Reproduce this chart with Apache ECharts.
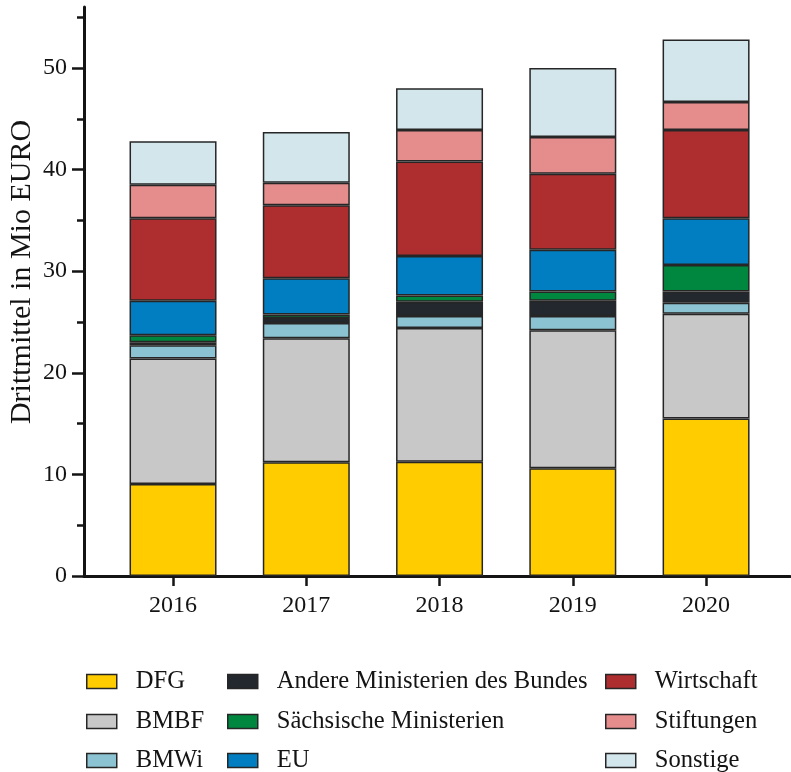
<!DOCTYPE html>
<html>
<head>
<meta charset="utf-8">
<script src="https://cdn.jsdelivr.net/npm/echarts@6/dist/echarts.min.js"></script>
<style>
html,body{margin:0;padding:0;background:#fff;}
#chart{width:791px;height:772px;}
</style>
</head>
<body>
<div id="chart"></div>
<script>
var years = ['2016', '2017', '2018', '2019', '2020'];
var seriesNames = ['DFG', 'BMBF', 'BMWi', 'Andere Ministerien des Bundes', 'Sächsische Ministerien', 'EU', 'Wirtschaft', 'Stiftungen', 'Sonstige'];
var dfg = [9.05, 11.2, 11.25, 10.6, 15.5];
var bmbf = [12.35, 12.2, 13.15, 13.6, 10.3];
var bmwi = [1.3, 1.5, 1.2, 1.4, 1.1];
var andere = [0.3, 0.5, 1.4, 1.5, 1.1];
var saechs = [0.7, 0.35, 0.6, 0.9, 2.6];
var eu = [3.4, 3.55, 3.9, 4.1, 4.6];
var wirtschaft = [8.1, 7.2, 9.3, 7.5, 8.7];
var stiftungen = [3.3, 2.2, 3.1, 3.6, 2.75];
var sonstige = [4.3, 5.0, 4.1, 6.8, 6.15];
var yTickLabels = [0, 10, 20, 30, 40, 50];
var colors = ['#FFCC00', '#C8C8C8', '#8CC3D2', '#23282F', '#00873F', '#007EC1', '#AE2D2F', '#E58C8C', '#D3E6EC'];
var values = [dfg, bmbf, bmwi, andere, saechs, eu, wirtschaft, stiftungen, sonstige];

var FONT = '"Liberation Serif", "Times New Roman", Times, serif';
var INK = '#141414';

var chart = echarts.init(document.getElementById('chart'));

var series = seriesNames.map(function (n, i) {
  return {
    name: n,
    type: 'bar',
    stack: 'total',
    xAxisIndex: 1,
    yAxisIndex: 1,
    barWidth: 87,
    data: values[i],
    itemStyle: { color: colors[i], borderColor: '#262626', borderWidth: 1.5 },
    emphasis: { disabled: true }
  };
});

// legend laid out as 3 columns x 3 rows (column-major)
var legendCols = [86, 227, 605];
var legendRowCenters = [681, 721, 760];
var legends = seriesNames.map(function (n, i) {
  var col = Math.floor(i / 3), row = i % 3;
  return {
    orient: 'horizontal',
    left: legendCols[col],
    top: legendRowCenters[row] - 12,
    padding: 0,
    itemWidth: 30,
    itemHeight: 14,
    icon: 'rect',
    selectedMode: false,
    data: [n],
    itemStyle: { borderColor: '#262626', borderWidth: 1.5 },
    textStyle: { fontFamily: FONT, fontSize: 24.6, color: INK, padding: [0, 0, 0, 14] }
  };
});

var option = {
  animation: false,
  backgroundColor: '#ffffff',
  color: colors,
  textStyle: { fontFamily: FONT },
  grid: [
    { left: 84, right: 1, top: 7, bottom: 196 },
    { left: 106.4, right: 18.3, top: 17.2, bottom: 196 },
    { left: 106.4, right: 18.3, top: 68, bottom: 196 }
  ],
  xAxis: [
    { gridIndex: 0, type: 'value', min: 0, max: 1,
      axisLine: { show: true, lineStyle: { color: INK, width: 3 } },
      axisTick: { show: false }, axisLabel: { show: false }, splitLine: { show: false } },
    { gridIndex: 1, type: 'category', data: years,
      axisLine: { show: false },
      axisTick: { show: true, alignWithLabel: true, length: 10, lineStyle: { color: INK, width: 2.5 } },
      axisLabel: { fontFamily: FONT, fontSize: 24, color: INK, margin: 18 } },
    { gridIndex: 2, type: 'category', data: years, show: false }
  ],
  yAxis: [
    { gridIndex: 0, type: 'value', min: 0, max: 56,
      axisLine: { show: true, lineStyle: { color: INK, width: 3 } },
      axisTick: { show: false }, axisLabel: { show: false }, splitLine: { show: false } },
    { gridIndex: 1, type: 'value', min: 0, max: 55, interval: 5, offset: 22.4,
      axisLine: { show: false },
      axisTick: { show: true, length: 7, lineStyle: { color: INK, width: 2.5 } },
      axisLabel: { show: false }, splitLine: { show: false } },
    { gridIndex: 2, type: 'value', min: yTickLabels[0], max: yTickLabels[yTickLabels.length - 1], interval: 10, offset: 22.4,
      axisLine: { show: false },
      axisTick: { show: true, length: 12, lineStyle: { color: INK, width: 2.5 } },
      axisLabel: { fontFamily: FONT, fontSize: 24, color: INK, margin: 17 },
      splitLine: { show: false } }
  ],
  legend: legends,
  graphic: [
    { type: 'text', x: 22, y: 272, rotation: Math.PI / 2,
      style: { text: 'Drittmittel in Mio EURO', font: '30px "Liberation Serif", "Times New Roman", serif', fill: INK,
               textAlign: 'center', textVerticalAlign: 'middle' } }
  ],
  series: series
};
chart.setOption(option);
</script>
</body>
</html>
